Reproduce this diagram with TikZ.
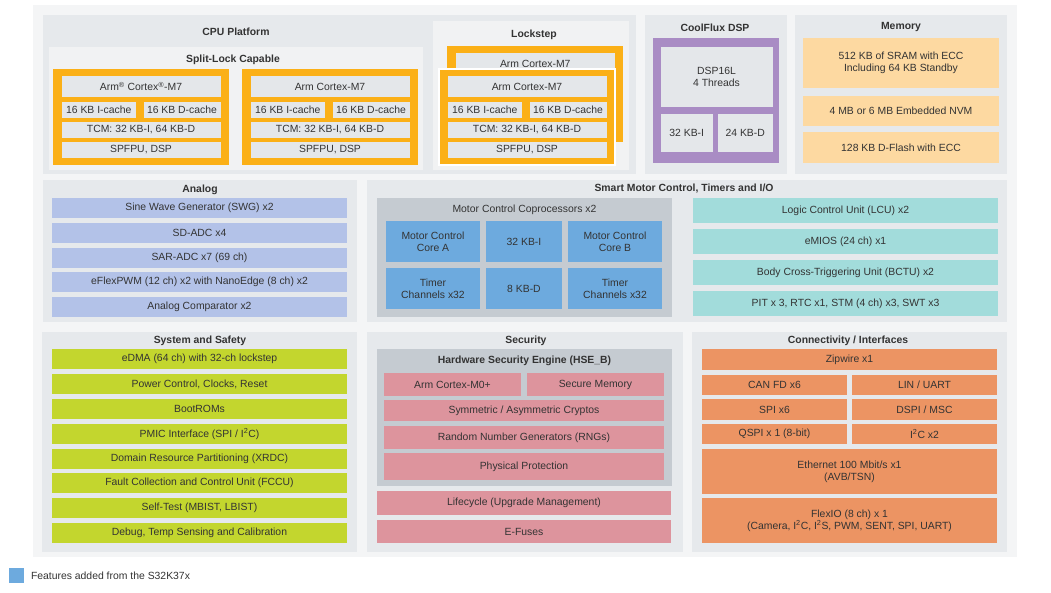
\documentclass[tikz,border=0pt]{standalone}
\usepackage{fontspec}
\setmainfont{Liberation Sans}
\definecolor{outerbg}{HTML}{F4F5F6}
\definecolor{panel}{HTML}{E6E9EC}
\definecolor{subpanel}{HTML}{F1F2F3}
\definecolor{cellgray}{HTML}{E4E7EA}
\definecolor{corange}{HTML}{FBB017}
\definecolor{cpurple}{HTML}{A98CC4}
\definecolor{cmem}{HTML}{FDD9A1}
\definecolor{canalog}{HTML}{B3C2E8}
\definecolor{cgraybox}{HTML}{C5CBD1}
\definecolor{cblue}{HTML}{6DAADE}
\definecolor{cteal}{HTML}{A2DCDB}
\definecolor{cgreen}{HTML}{C3D62E}
\definecolor{cpink}{HTML}{DD949D}
\definecolor{cconn}{HTML}{EC9463}
\definecolor{txt}{HTML}{333333}
\newcommand\fsz{\fontsize{10.4}{12.2}\selectfont}
\newcommand\bx[7]{\node[#6, anchor=north west, minimum width={(#4-#2)*1pt}, minimum height={(#5-#3)*1pt}] (#1) at (#2,#3) {#7};}
\tikzset{
  blk/.style={inner sep=0pt, outer sep=0pt, align=center, font=\fsz, text=txt},
  pnl/.style={blk, fill=panel},
  spnl/.style={blk, fill=subpanel},
  cell/.style={blk, fill=cellgray},
  orng/.style={blk, fill=corange},
  purp/.style={blk, fill=cpurple},
  mem/.style={blk, fill=cmem},
  ana/.style={blk, fill=canalog},
  gbox/.style={blk, fill=cgraybox},
  blu/.style={blk, fill=cblue},
  teal/.style={blk, fill=cteal},
  grn/.style={blk, fill=cgreen},
  pnk/.style={blk, fill=cpink},
  con/.style={blk, fill=cconn},
  ttl/.style={inner sep=0pt, font=\fsz\bfseries, text=txt},
}
\begin{document}
\begin{tikzpicture}[x=1pt, y=-1pt]
\useasboundingbox (0,0) rectangle (1051,592);
\fill[white] (0,0) rectangle (1051,592);
\bx{bg}{33}{5}{1017}{557}{blk, fill=outerbg}{}
% ---------------- CPU Platform
\bx{cpu}{43}{15}{636}{174}{pnl}{}
\node[ttl] (cputtl) at (236,32) {CPU Platform};
\bx{split}{49}{47}{423}{170}{spnl}{}
\node[ttl] (splitttl) at (233,60) {Split-Lock Capable};
% core 1
\bx{c1}{53}{69}{229}{165}{orng}{}
\bx{c1a}{61.5}{76}{220.5}{97}{cell}{Arm\textsuperscript{®} Cortex\textsuperscript{®}-M7}
\bx{c1b}{61.5}{102}{136}{118}{cell}{16 KB I-cache}
\bx{c1c}{143.5}{102}{220.5}{118}{cell}{16 KB D-cache}
\bx{c1d}{61.5}{122}{220.5}{138}{cell}{TCM: 32 KB-I, 64 KB-D}
\bx{c1e}{61.5}{142}{220.5}{158}{cell}{SPFPU, DSP}
% core 2
\bx{c2}{242}{69}{418}{165}{orng}{}
\bx{c2a}{250.5}{76}{409.5}{97}{cell}{Arm Cortex-M7}
\bx{c2b}{250.5}{102}{325}{118}{cell}{16 KB I-cache}
\bx{c2c}{332.5}{102}{409.5}{118}{cell}{16 KB D-cache}
\bx{c2d}{250.5}{122}{409.5}{138}{cell}{TCM: 32 KB-I, 64 KB-D}
\bx{c2e}{250.5}{142}{409.5}{158}{cell}{SPFPU, DSP}
% Lockstep
\bx{lock}{433}{21}{629}{170}{spnl}{}
\node[ttl] (lockttl) at (534,35) {Lockstep};
\bx{c3back}{447}{46}{623}{142}{orng}{}
\bx{c3backa}{456}{53}{614.5}{74}{cell}{Arm Cortex-M7}
\bx{c3}{439}{69}{615}{165}{orng, draw=white, line width=1.2pt}{}
\bx{c3a}{447.5}{76}{606.5}{97}{cell}{Arm Cortex-M7}
\bx{c3b}{447.5}{102}{522}{118}{cell}{16 KB I-cache}
\bx{c3c}{529.5}{102}{606.5}{118}{cell}{16 KB D-cache}
\bx{c3d}{447.5}{122}{606.5}{138}{cell}{TCM: 32 KB-I, 64 KB-D}
\bx{c3e}{447.5}{142}{606.5}{158}{cell}{SPFPU, DSP}
% ---------------- CoolFlux DSP
\bx{dsp}{645}{15}{787}{174}{pnl}{}
\node[ttl] (dspttl) at (715,28) {CoolFlux DSP};
\bx{dspp}{653}{38}{779}{163}{purp}{}
\bx{dspa}{660.5}{47}{772.5}{107}{cell}{DSP16L\\4 Threads}
\bx{dspb}{660.5}{114}{713}{152}{cell}{32 KB-I}
\bx{dspc}{718}{114}{772.5}{152}{cell}{24 KB-D}
% ---------------- Memory
\bx{mem}{795}{15}{1007}{174}{pnl}{}
\node[ttl] (memttl) at (901,27) {Memory};
\bx{mema}{803}{38}{999}{88}{mem}{512 KB of SRAM with ECC\\Including 64 KB Standby}
\bx{memb}{803}{96}{999}{126}{mem}{4 MB or 6 MB Embedded NVM}
\bx{memc}{803}{132}{999}{163}{mem}{128 KB D-Flash with ECC}
% ---------------- Analog
\bx{ana}{43}{180}{357}{322}{pnl}{}
\node[ttl] (anattl) at (200,190) {Analog};
\bx{ana1}{52}{198}{347}{218}{ana}{Sine Wave Generator (SWG) x2}
\bx{ana2}{52}{223}{347}{243}{ana}{SD-ADC x4}
\bx{ana3}{52}{248}{347}{268}{ana}{SAR-ADC x7 (69 ch)}
\bx{ana4}{52}{272}{347}{292}{ana}{eFlexPWM (12 ch) x2 with NanoEdge (8 ch) x2}
\bx{ana5}{52}{297}{347}{317}{ana}{Analog Comparator x2}
% ---------------- Smart Motor Control
\bx{smc}{367}{180}{1007}{322}{pnl}{}
\node[ttl] (smcttl) at (684,189) {Smart Motor Control, Timers and I/O};
\bx{mcc}{377}{198}{672}{317}{gbox}{}
\node[blk] (mccttl) at (524.5,210) {Motor Control Coprocessors x2};
\bx{mca}{386}{221}{480}{262}{blu}{Motor Control\\Core A}
\bx{mcb}{486}{221}{562}{262}{blu}{32 KB-I}
\bx{mcc2}{568}{221}{662}{262}{blu}{Motor Control\\Core B}
\bx{mcd}{386}{268}{480}{309}{blu}{Timer\\Channels x32}
\bx{mce}{486}{268}{562}{309}{blu}{8 KB-D}
\bx{mcf}{568}{268}{662}{309}{blu}{Timer\\Channels x32}
\bx{tl1}{693}{198}{998}{223}{teal}{Logic Control Unit (LCU) x2}
\bx{tl2}{693}{229}{998}{254}{teal}{eMIOS (24 ch) x1}
\bx{tl3}{693}{260}{998}{285}{teal}{Body Cross-Triggering Unit (BCTU) x2}
\bx{tl4}{693}{291}{998}{316}{teal}{PIT x 3, RTC x1, STM (4 ch) x3, SWT x3}
% ---------------- System and Safety
\bx{sys}{42}{332}{357}{552}{pnl}{}
\node[ttl] (systtl) at (200,341) {System and Safety};
\bx{s1}{52}{349}{347}{369}{grn}{eDMA (64 ch) with 32-ch lockstep}
\bx{s2}{52}{374}{347}{394}{grn}{Power Control, Clocks, Reset}
\bx{s3}{52}{399}{347}{419}{grn}{BootROMs}
\bx{s4}{52}{424}{347}{444}{grn}{PMIC Interface (SPI / I\textsuperscript{2}C)}
\bx{s5}{52}{449}{347}{469}{grn}{Domain Resource Partitioning (XRDC)}
\bx{s6}{52}{473}{347}{493}{grn}{Fault Collection and Control Unit (FCCU)}
\bx{s7}{52}{498}{347}{518}{grn}{Self-Test (MBIST, LBIST)}
\bx{s8}{52}{523}{347}{543}{grn}{Debug, Temp Sensing and Calibration}
% ---------------- Security
\bx{sec}{367}{332}{683}{552}{pnl}{}
\node[ttl] (secttl) at (526,341) {Security};
\bx{hse}{377}{349}{672}{486}{gbox}{}
\node[ttl] (hsettl) at (524.5,361) {Hardware Security Engine (HSE\_B)};
\bx{p1}{384}{373}{521}{396}{pnk}{Arm Cortex-M0+}
\bx{p2}{527}{373}{664}{396}{pnk}{Secure Memory}
\bx{p3}{384}{400}{664}{421}{pnk}{Symmetric / Asymmetric Cryptos}
\bx{p4}{384}{426}{664}{449}{pnk}{Random Number Generators (RNGs)}
\bx{p5}{384}{453}{664}{480}{pnk}{Physical Protection}
\bx{p6}{377}{491}{671}{515}{pnk}{Lifecycle (Upgrade Management)}
\bx{p7}{377}{520}{671}{543}{pnk}{E-Fuses}
% ---------------- Connectivity
\bx{conn}{692}{332}{1007}{552}{pnl}{}
\node[ttl] (connttl) at (848,341) {Connectivity / Interfaces};
\bx{k1}{702}{349}{997}{370}{con}{Zipwire x1}
\bx{k2}{702}{375}{847}{395}{con}{CAN FD x6}
\bx{k3}{852}{375}{997}{395}{con}{LIN / UART}
\bx{k4}{702}{399}{847}{420}{con}{SPI x6}
\bx{k5}{852}{399}{997}{420}{con}{DSPI / MSC}
\bx{k6}{702}{424}{847}{444}{con}{QSPI x 1 (8-bit)}
\bx{k7}{852}{424}{997}{444}{con}{I\textsuperscript{2}C x2}
\bx{k8}{702}{449}{997}{494}{con}{Ethernet 100 Mbit/s x1\\(AVB/TSN)}
\bx{k9}{702}{498}{997}{543}{con}{FlexIO (8 ch) x 1\\(Camera, I\textsuperscript{2}C, I\textsuperscript{2}S, PWM, SENT, SPI, UART)}
% ---------------- Legend
\bx{leg}{9}{568}{24}{583}{blu}{}
\node[blk, anchor=west] (legtxt) at (31,575.5) {Features added from the S32K37x};
\end{tikzpicture}
\end{document}
